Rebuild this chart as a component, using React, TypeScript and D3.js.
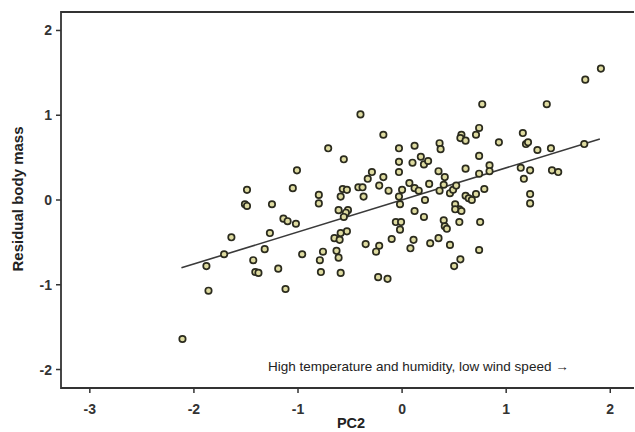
import React, { useEffect, useRef } from "react"
import * as d3 from "d3"

// PC2 scores (x) and residual body mass (y)
const pc2 = [
  -2.11, -1.88, -1.86, -1.71, -1.64, -1.49, -1.51, -1.49, -1.43, -1.41,
  -1.38, -1.32, -1.27, -1.25, -1.19, -1.14, -1.1, -1.02, -1.12, -1.05,
  -1.01, -0.96, -0.8, -0.8, -0.79, -0.78, -0.76, -0.71, -0.56, -0.4,
  -0.18, -0.61, -0.52, -0.54, -0.56, -0.57, -0.53, -0.59, -0.42, -0.38,
  -0.37, -0.29, -0.33, -0.18, -0.22, -0.13, -0.03, 0.12, 0.36, 0.37,
  -0.03, 0.1, 0.18, 0.21, 0.25, -0.03, 0.35, 0.41, 0.0, 0.07,
  0.12, 0.16, 0.26, 0.36, 0.4, 0.46, 0.49, 0.52, -0.03, -0.02,
  0.22, 0.12, 0.21, 0.4, 0.41, 0.43, -0.06, -0.01, -0.02, -0.53,
  -0.59, -0.65, -0.6, -0.63, -0.61, -0.35, -0.22, -0.25, -0.1, 0.11,
  0.08, 0.27, 0.35, 0.46, -0.59, -0.23, -0.14, 0.5, 0.56, 1.91,
  1.76, 0.77, 1.39, 0.74, 0.57, 0.56, 0.61, 0.71, 1.16, 1.19,
  1.21, 0.93, 1.3, 1.43, 1.75, 0.74, 0.61, 0.84, 0.84, 0.74,
  1.14, 1.23, 1.44, 1.5, 1.17, 0.79, 0.71, 0.61, 0.64, 0.67,
  1.23, 1.23, 0.51, 0.55, 0.51, 0.57, 0.55, 0.75, 0.74
]
const residualMass = [
  -1.64, -0.78, -1.07, -0.64, -0.44, 0.12, -0.05, -0.07, -0.71, -0.85,
  -0.86, -0.58, -0.39, -0.05, -0.81, -0.22, -0.25, -0.28, -1.05, 0.14,
  0.35, -0.64, 0.06, -0.04, -0.71, -0.85, -0.61, 0.61, 0.48, 1.01,
  0.77, -0.12, -0.12, -0.15, -0.2, 0.13, 0.12, 0.04, 0.15, 0.15,
  0.04, 0.33, 0.25, 0.27, 0.17, 0.11, 0.61, 0.64, 0.67, 0.6,
  0.45, 0.44, 0.51, 0.42, 0.46, 0.33, 0.34, 0.27, 0.12, 0.2,
  0.14, 0.11, 0.19, 0.11, 0.18, 0.08, 0.12, 0.17, 0.04, -0.05,
  0.0, -0.13, -0.2, -0.24, -0.31, -0.34, -0.26, -0.26, -0.35, -0.37,
  -0.39, -0.45, -0.47, -0.6, -0.68, -0.52, -0.54, -0.61, -0.46, -0.47,
  -0.57, -0.51, -0.45, -0.53, -0.86, -0.91, -0.93, -0.78, -0.7, 1.55,
  1.42, 1.13, 1.13, 0.85, 0.77, 0.73, 0.7, 0.77, 0.79, 0.66,
  0.68, 0.68, 0.59, 0.61, 0.66, 0.52, 0.37, 0.41, 0.34, 0.31,
  0.38, 0.35, 0.35, 0.33, 0.25, 0.13, 0.07, 0.05, 0.02, 0.0,
  0.07, -0.04, -0.05, -0.11, -0.11, -0.13, -0.26, -0.26, -0.59
]

// fitted regression line end points
const fitX = [-2.12, 1.9]
const fitY = [-0.8, 0.72]

const xTicks = [-3, -2, -1, 0, 1, 2]
const yTicks = [-2, -1, 0, 1, 2]

const note = "High temperature and humidity, low wind speed \u2192"

function App() {
  const ref = useRef<SVGSVGElement>(null)

  useEffect(() => {
    const width = 635
    const height = 432
    const left = 61
    const right = 634
    const top = 12
    const bottom = 388
    const font = "Liberation Sans, Arial, sans-serif"

    const svg = d3.select(ref.current)
    svg.selectAll("*").remove()

    const x = d3.scaleLinear().domain([-3.277, 2.228]).range([left, right])
    const y = d3.scaleLinear().domain([-2.218, 2.218]).range([bottom, top])

    const ink = "#333"

    // frame: top, left, bottom (no right side)
    svg
      .append("path")
      .attr("d", `M${right},${top}H${left}V${bottom}H${right}`)
      .attr("fill", "none")
      .attr("stroke", ink)
      .attr("stroke-width", 1.8)

    const gx = svg.append("g").attr("font-family", font)
    gx.selectAll("line")
      .data(xTicks)
      .join("line")
      .attr("x1", d => x(d))
      .attr("x2", d => x(d))
      .attr("y1", bottom)
      .attr("y2", bottom + 5)
      .attr("stroke", ink)
      .attr("stroke-width", 1.5)
    gx.selectAll("text")
      .data(xTicks)
      .join("text")
      .attr("x", d => x(d))
      .attr("y", 414)
      .attr("text-anchor", "middle")
      .attr("font-size", 14)
      .attr("font-weight", "bold")
      .attr("fill", ink)
      .text(d => d)

    const gy = svg.append("g").attr("font-family", font)
    gy.selectAll("line")
      .data(yTicks)
      .join("line")
      .attr("x1", left - 5)
      .attr("x2", left)
      .attr("y1", d => y(d))
      .attr("y2", d => y(d))
      .attr("stroke", ink)
      .attr("stroke-width", 1.5)
    gy.selectAll("text")
      .data(yTicks)
      .join("text")
      .attr("x", left - 9)
      .attr("y", d => y(d) + 5)
      .attr("text-anchor", "end")
      .attr("font-size", 14)
      .attr("font-weight", "bold")
      .attr("fill", ink)
      .text(d => d)

    // regression line
    const line = d3
      .line<number>()
      .x(d => x(fitX[d]))
      .y(d => y(fitY[d]))
    svg
      .append("path")
      .attr("d", line([0, 1]))
      .attr("fill", "none")
      .attr("stroke", "#3a3a3a")
      .attr("stroke-width", 1.6)

    // points
    svg
      .append("g")
      .selectAll("circle")
      .data(d3.range(pc2.length))
      .join("circle")
      .attr("cx", i => x(pc2[i]))
      .attr("cy", i => y(residualMass[i]))
      .attr("r", 3.2)
      .attr("fill", "#dedba0")
      .attr("stroke", "#2b2b1e")
      .attr("stroke-width", 1.7)

    // annotation and axis titles
    svg
      .append("text")
      .attr("x", 268)
      .attr("y", 371)
      .attr("font-family", font)
      .attr("font-size", 13.5)
      .attr("fill", "#222")
      .text(note)

    svg
      .append("text")
      .attr("x", 351)
      .attr("y", 428)
      .attr("text-anchor", "middle")
      .attr("font-family", font)
      .attr("font-size", 14.5)
      .attr("font-weight", "bold")
      .attr("fill", "#222")
      .text("PC2")

    svg
      .append("text")
      .attr("transform", `translate(23,199) rotate(-90)`)
      .attr("text-anchor", "middle")
      .attr("font-family", font)
      .attr("font-size", 15)
      .attr("font-weight", "bold")
      .attr("fill", "#222")
      .text("Residual body mass")

    svg.attr("width", width).attr("height", height)
  }, [])

  return (
    <svg
      ref={ref}
      width={635}
      height={432}
      style={{ position: "absolute", left: 0, top: 0, background: "#fff" }}
    />
  )
}

export default App
